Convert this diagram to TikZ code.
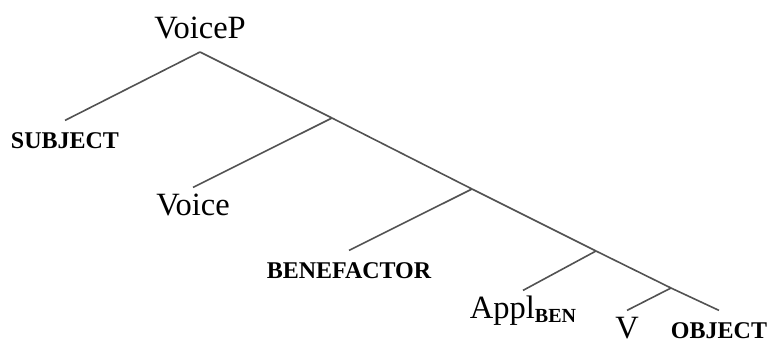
\documentclass[tikz,border=0pt]{standalone}
\usepackage{fontspec}
\setmainfont{Liberation Serif}

\begin{document}
\begin{tikzpicture}[x=0.5pt,y=-0.5pt,semithick]
  \tikzstyle{every node}=[anchor=base,inner sep=2pt,text height=11.5pt,font=\fontsize{16.25}{19}\selectfont]
  \tikzstyle{feat}=[font=\fontsize{12}{14}\selectfont\bfseries]
  \tikzstyle{branch}=[draw=black!68,line width=0.8pt]
  \useasboundingbox (0,0) rectangle (767,343);

  % labels
  \node (VoiceP) at (200,38) {VoiceP};
  \node[feat] (Subj) at (65,148) {SUBJECT};
  \node (Voice) at (193,215) {Voice};
  \node[feat] (Ben) at (349,278) {BENEFACTOR};
  \node (Appl) at (523,318) {Appl\raisebox{-2pt}{\fontsize{10}{10}\selectfont\bfseries BEN}};
  \node (V) at (627,338) {V};
  \node[feat] (Obj) at (719,338) {OBJECT};

  % branching points
  \coordinate (top) at (200,52);
  \coordinate (b1) at (332,118);
  \coordinate (b2) at (472,189);
  \coordinate (b3) at (596,251);
  \coordinate (b4) at (671,288);

  \path[branch] (top) edge (Subj.north)
                (top) edge (b1)
                (b1) edge (Voice.north)
                (b1) edge (b2)
                (b2) edge (Ben.north)
                (b2) edge (b3)
                (b3) edge (Appl.north)
                (b3) edge (b4)
                (b4) edge (V.north)
                (b4) edge (Obj.north);
\end{tikzpicture}
\end{document}
